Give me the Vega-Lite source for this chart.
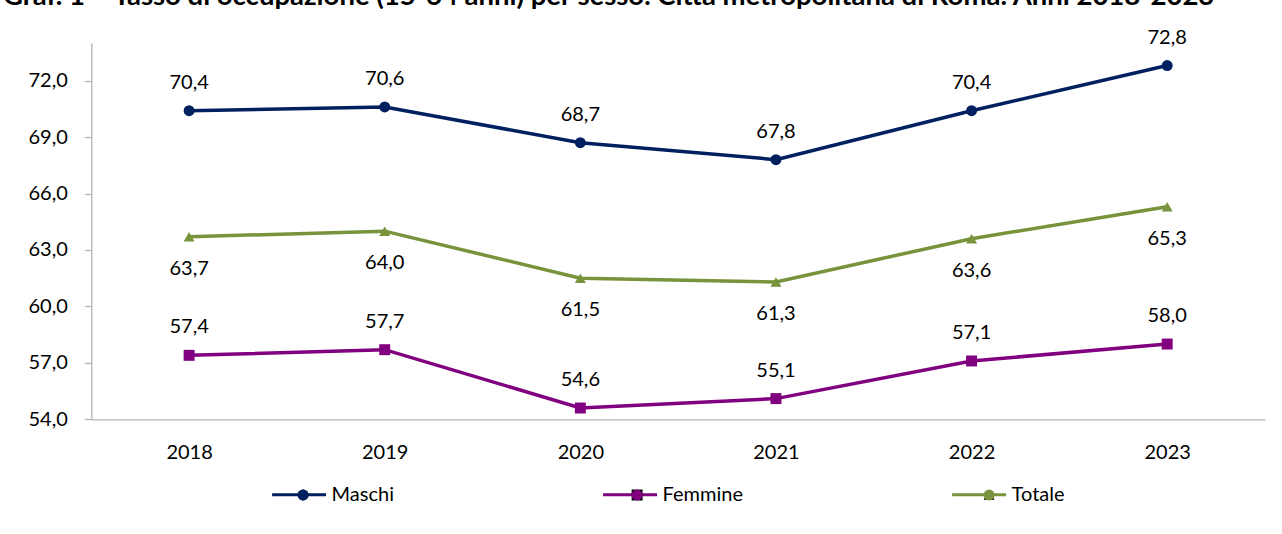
{
  "$schema": "https://vega.github.io/schema/vega-lite/v6.json",
  "width": 1173.7,
  "height": 376.3,
  "autosize": {"type": "none"},
  "padding": {"left": 91.3, "top": 43, "right": 17, "bottom": 114.7},
  "background": "white",
  "title": {
    "text": "Graf. 1 – Tasso di occupazione (15-64 anni) per sesso. Città metropolitana di Roma. Anni 2018-2023",
    "anchor": "start",
    "frame": "group",
    "dx": -88.3,
    "dy": -13,
    "font": "Lato",
    "fontSize": 27.5,
    "fontWeight": "bold",
    "color": "black"
  },
  "config": {
    "view": {"stroke": null},
    "font": "Lato"
  },
  "data": {
    "values": [
      {"year": 2018, "series": "Maschi", "value": 70.4},
      {"year": 2019, "series": "Maschi", "value": 70.6},
      {"year": 2020, "series": "Maschi", "value": 68.7},
      {"year": 2021, "series": "Maschi", "value": 67.8},
      {"year": 2022, "series": "Maschi", "value": 70.4},
      {"year": 2023, "series": "Maschi", "value": 72.8},
      {"year": 2018, "series": "Femmine", "value": 57.4},
      {"year": 2019, "series": "Femmine", "value": 57.7},
      {"year": 2020, "series": "Femmine", "value": 54.6},
      {"year": 2021, "series": "Femmine", "value": 55.1},
      {"year": 2022, "series": "Femmine", "value": 57.1},
      {"year": 2023, "series": "Femmine", "value": 58.0},
      {"year": 2018, "series": "Totale", "value": 63.7},
      {"year": 2019, "series": "Totale", "value": 64.0},
      {"year": 2020, "series": "Totale", "value": 61.5},
      {"year": 2021, "series": "Totale", "value": 61.3},
      {"year": 2022, "series": "Totale", "value": 63.6},
      {"year": 2023, "series": "Totale", "value": 65.3}
    ]
  },
  "encoding": {
    "x": {
      "field": "year", "type": "quantitative",
      "scale": {"domain": [2017.5, 2023.5], "nice": false, "zero": false},
      "axis": {"values": [2018, 2019, 2020, 2021, 2022, 2023], "format": "d", "title": null, "grid": false, "ticks": false, "domainColor": "#b3b3b3", "domainWidth": 1.3, "labelFontSize": 20, "labelColor": "black", "labelPadding": 23}
    },
    "y": {
      "field": "value", "type": "quantitative",
      "scale": {"domain": [54, 74], "nice": false, "zero": false},
      "axis": {"values": [54, 57, 60, 63, 66, 69, 72], "labelExpr": "replace(format(datum.value, '.1f'), '.', ',')", "title": null, "grid": false, "tickSize": 7, "tickColor": "#b3b3b3", "tickWidth": 1.3, "domainColor": "#b3b3b3", "domainWidth": 1.3, "labelFontSize": 20, "labelColor": "black", "labelPadding": 17}
    }
  },
  "layer": [
    {
      "data": {"values": [{}]},
      "mark": {"type": "rect", "filled": false, "stroke": "#a6a6a6", "strokeWidth": 1, "strokeDash": [1273, 1793, 520, 0], "clip": false},
      "encoding": {
        "x": {
          "datum": 2017.079, "type": "quantitative",
          "axis": {"values": [2018, 2019, 2020, 2021, 2022, 2023], "format": "d", "title": null, "grid": false, "ticks": false, "domainColor": "#b3b3b3", "domainWidth": 1.3, "labelFontSize": 20, "labelColor": "black", "labelPadding": 23}
        },
        "x2": {"datum": 2023.587},
        "y": {
          "datum": 75.547, "type": "quantitative",
          "axis": {"values": [54, 57, 60, 63, 66, 69, 72], "labelExpr": "replace(format(datum.value, '.1f'), '.', ',')", "title": null, "grid": false, "tickSize": 7, "tickColor": "#b3b3b3", "tickWidth": 1.3, "domainColor": "#b3b3b3", "domainWidth": 1.3, "labelFontSize": 20, "labelColor": "black", "labelPadding": 17}
        },
        "y2": {"datum": 47.902}
      }
    },
    {
      "mark": {"type": "line", "strokeWidth": 3.5},
      "encoding": {
        "color": {
          "field": "series", "type": "nominal",
          "scale": {"domain": ["Maschi", "Femmine", "Totale"], "range": ["#002060", "#800080", "#77933C"]},
          "legend": {
            "title": null,
            "orient": "none",
            "direction": "horizontal",
            "legendX": 179.3,
            "legendY": 423,
            "columnPadding": 202,
            "padding": 0,
            "symbolType": "stroke",
            "symbolSize": 2916,
            "symbolStrokeWidth": 3,
            "labelOffset": 4,
            "labelFontSize": 20,
            "labelColor": "black"
          }
        }
      }
    },
    {
      "transform": [{"calculate": "datum.series", "as": "serie"}],
      "mark": {"type": "point", "filled": true, "size": 120, "opacity": 1},
      "encoding": {
        "fill": {
          "field": "serie", "type": "nominal",
          "sort": ["Maschi", "Femmine", "Totale"],
          "scale": {"range": ["#002060", "#800080", "#77933C"]},
          "legend": {
            "title": null,
            "orient": "none",
            "direction": "horizontal",
            "legendX": 201.8,
            "legendY": 442,
            "columnPadding": 247,
            "padding": 0,
            "symbolSize": 120,
            "symbolStrokeWidth": 0,
            "symbolOpacity": 1,
            "labelOffset": 4,
            "labelFontSize": 20,
            "labelOpacity": 0
          }
        },
        "shape": {
          "field": "serie", "type": "nominal",
          "sort": ["Maschi", "Femmine", "Totale"],
          "scale": {"range": ["circle", "square", "triangle-up"]},
          "legend": {
            "title": null,
            "orient": "none",
            "direction": "horizontal",
            "legendX": 201.8,
            "legendY": 442,
            "columnPadding": 247,
            "padding": 0,
            "symbolSize": 120,
            "symbolStrokeWidth": 0,
            "symbolOpacity": 1,
            "labelOffset": 4,
            "labelFontSize": 20,
            "labelOpacity": 0
          }
        }
      }
    },
    {
      "transform": [
        {"filter": "datum.series !== 'Totale'"},
        {"calculate": "replace(format(datum.value, '.1f'), '.', ',')", "as": "label"}
      ],
      "mark": {"type": "text", "font": "Lato", "fontSize": 20, "color": "black", "align": "center", "baseline": "alphabetic", "dy": -22},
      "encoding": {
        "text": {"field": "label", "type": "nominal"}
      }
    },
    {
      "transform": [
        {"filter": "datum.series === 'Totale'"},
        {"calculate": "replace(format(datum.value, '.1f'), '.', ',')", "as": "label"}
      ],
      "mark": {"type": "text", "font": "Lato", "fontSize": 20, "color": "black", "align": "center", "baseline": "alphabetic", "dy": 38},
      "encoding": {
        "text": {"field": "label", "type": "nominal"}
      }
    }
  ]
}
